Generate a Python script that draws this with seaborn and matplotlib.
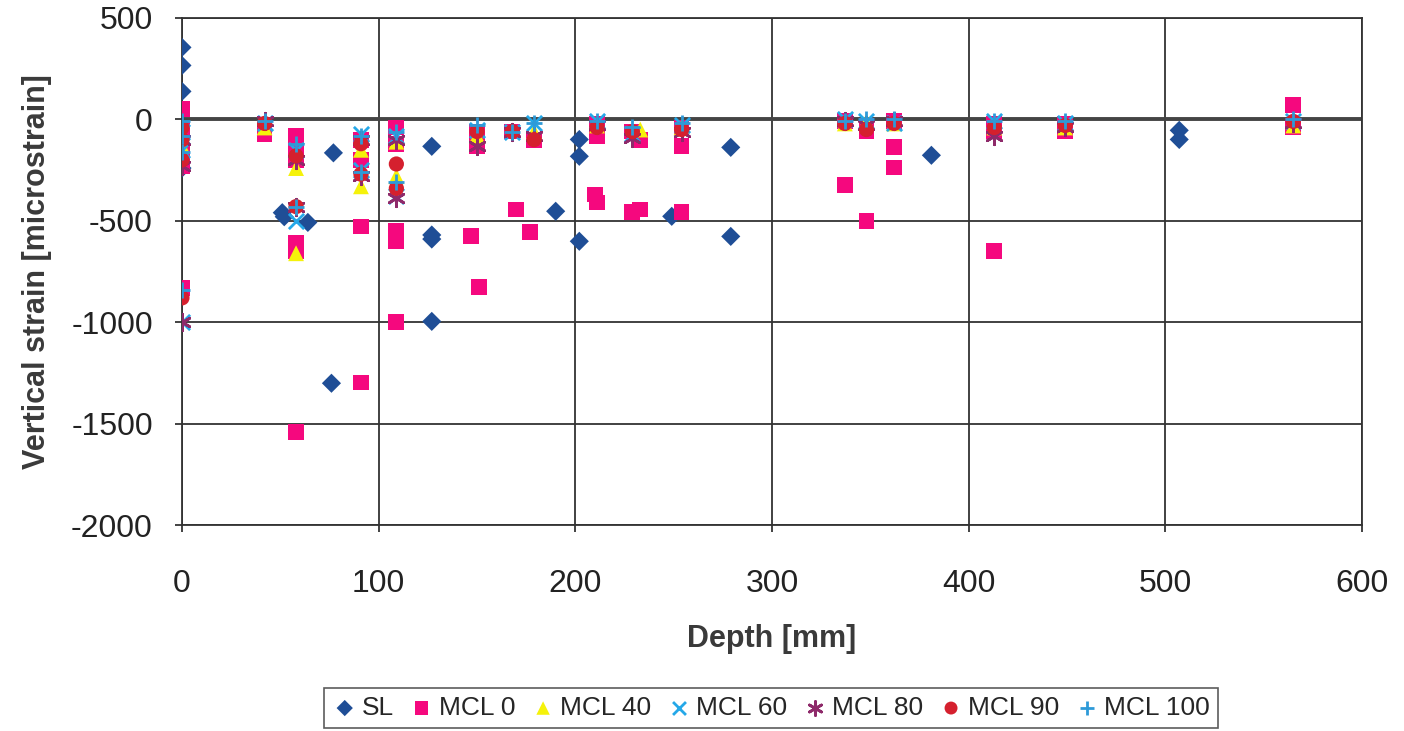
import matplotlib
matplotlib.use("Agg")
import matplotlib.pyplot as plt
import seaborn as sns
import pandas as pd

# ---- data ----
sl_x = [0, 0, 0, 0, 51, 52, 64, 77, 76, 127, 127, 127, 127, 190, 202, 202, 202, 249, 279, 279, 381, 507, 507]
sl_y = [355, 266, 138, -240, -460, -480, -508, -165, -1301, -133, -570, -590, -996, -453, -99, -182, -601, -478, -138, -577, -177, -54, -99]

mcl0_x = [0, 0, 0, 0, 0, 42, 58, 58, 58, 58, 58, 58, 91, 91, 91, 91, 109, 109, 109, 109, 109, 147, 150, 150, 151,
          168, 170, 177, 179, 210, 211, 211, 211, 229, 229, 233, 233, 254, 254, 254, 337, 337, 348, 348, 348,
          362, 362, 362, 413, 413, 413, 449, 449, 565, 565]
mcl0_y = [50, -50, -150, -230, -830, -70, -80, -150, -200, -610, -650, -1540, -100, -200, -528, -1297, -40, -120, -550, -600, -1000,
          -577, -60, -130, -828, -60, -444, -557, -100, -370, -410, -20, -80, -455, -60, -444, -100, -455, -133, -40,
          -325, -10, -503, -30, -60, -138, -237, -10, -650, -20, -60, -20, -60, 70, -40]

mcl40_x = [0, 0, 42, 58, 58, 91, 91, 109, 109, 150, 179, 211, 233, 254, 337, 348, 362, 413, 449, 565]
mcl40_y = [-130, -180, -40, -240, -660, -150, -330, -110, -280, -80, -60, -30, -50, -40, -20, -10, -20, -40, -40, -30]

mcl60_x = [0, 0, 0, 42, 58, 58, 91, 91, 109, 109, 150, 168, 179, 211, 229, 254, 337, 348, 362, 413, 449, 565]
mcl60_y = [-60, -150, -1000, -20, -150, -500, -70, -250, -80, -380, -50, -60, -20, -10, -70, -30, 0, -10, -20, -10, -20, -10]

mcl80_x = [0, 0, 0, 42, 58, 58, 91, 91, 109, 109, 150, 168, 179, 211, 229, 254, 337, 348, 362, 413, 449, 565]
mcl80_y = [-100, -230, -1000, -10, -200, -430, -100, -280, -100, -390, -130, -60, -80, -30, -90, -60, -10, -30, -10, -80, -40, -20]

mcl90_x = [0, 0, 0, 0, 42, 58, 58, 91, 91, 109, 109, 150, 168, 179, 211, 229, 254, 337, 348, 362, 413, 449, 565]
mcl90_y = [-40, -100, -200, -880, -20, -180, -430, -120, -270, -220, -340, -60, -60, -100, -40, -60, -50, -20, -50, -20, -40, -30, -10]

mcl100_x = [0, 0, 0, 0, 42, 58, 58, 91, 91, 109, 109, 150, 168, 179, 211, 229, 254, 337, 348, 362, 413, 449, 565]
mcl100_y = [-10, -80, -160, -840, -10, -120, -430, -80, -260, -60, -310, -30, -60, -20, -10, -40, -20, -10, 0, 0, -10, -10, 0]

series_names = ["SL", "MCL 0", "MCL 40", "MCL 60", "MCL 80", "MCL 90", "MCL 100"]
x_ticks = [0, 100, 200, 300, 400, 500, 600]
y_ticks = [-2000, -1500, -1000, -500, 0, 500]

# ---- styles ----
styles = {
    "SL": dict(marker="D", color="#1F4E96", s=95, lw=0),
    "MCL 0": dict(marker="s", color="#F5087E", s=130, lw=0),
    "MCL 40": dict(marker="^", color="#F5F20A", s=130, lw=0),
    "MCL 60": dict(marker="x", color="#25A8E8", s=120, lw=2),
    "MCL 80": dict(marker=(6, 2, 0), color="#8E2A6A", s=140, lw=2),
    "MCL 90": dict(marker="o", color="#D5202E", s=120, lw=0),
    "MCL 100": dict(marker="+", color="#2E9AD8", s=140, lw=2),
}
data = {
    "SL": (sl_x, sl_y), "MCL 0": (mcl0_x, mcl0_y), "MCL 40": (mcl40_x, mcl40_y),
    "MCL 60": (mcl60_x, mcl60_y), "MCL 80": (mcl80_x, mcl80_y),
    "MCL 90": (mcl90_x, mcl90_y), "MCL 100": (mcl100_x, mcl100_y),
}

sns.set_theme(style="white")
plt.rcParams["font.family"] = ["Liberation Sans", "DejaVu Sans"]
plt.rcParams["axes.unicode_minus"] = False

fig = plt.figure(figsize=(14.04, 7.31), dpi=100)
ax = fig.add_axes([0.1296, 0.2818, 0.8406, 0.6936])

for name in series_names:
    xs, ys = data[name]
    st = styles[name]
    df = pd.DataFrame({"Depth": xs, "Strain": ys})
    kw = dict(data=df, x="Depth", y="Strain", marker=st["marker"], color=st["color"],
              s=st["s"], label=name, ax=ax, zorder=3)
    if st["lw"] > 0:
        kw["linewidth"] = st["lw"]
    else:
        kw["edgecolor"] = "none"
    sns.scatterplot(**kw)

ax.set_xlim(0, 600)
ax.set_ylim(-2000, 500)
ax.set_xticks(x_ticks)
ax.set_yticks(y_ticks)
ax.grid(True, color="#333333", linewidth=1.3)
ax.axhline(0, color="#444444", linewidth=2.8, zorder=2)
for sp in ax.spines.values():
    sp.set_color("#333333")
    sp.set_linewidth(1.3)
ax.tick_params(axis="both", labelsize=23, colors="#222222", length=5, width=1.2,
               direction="out", bottom=True, left=True)
ax.tick_params(axis="x", pad=27)
ax.tick_params(axis="y", pad=16)
ax.set_xlabel("Depth [mm]", fontsize=22, fontweight="bold", color="#3a3a3a", labelpad=18)
ax.set_ylabel("Vertical strain [microstrain]", fontsize=22, fontweight="bold", color="#3a3a3a", labelpad=14)

handles, labels = ax.get_legend_handles_labels()
leg = fig.legend(handles, labels, loc="center", bbox_to_anchor=(0.549, 0.0315), ncol=7,
                 fontsize=19, frameon=True, fancybox=False, edgecolor="#333333",
                 handletextpad=0.15, columnspacing=0.55, borderpad=0.3, handlelength=1.0,
                 markerscale=0.85)
leg.get_frame().set_linewidth(1.2)
if ax.get_legend():
    ax.get_legend().remove()

fig.savefig("out.png", dpi=100)
